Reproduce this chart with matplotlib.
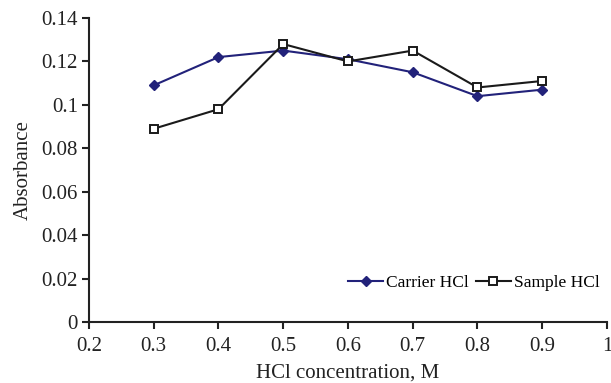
import matplotlib
matplotlib.use("Agg")
import matplotlib.pyplot as plt

plt.rcParams['font.family'] = ['Liberation Serif', 'DejaVu Serif']

hcl = [0.3, 0.4, 0.5, 0.6, 0.7, 0.8, 0.9]
carrier = [0.109, 0.122, 0.125, 0.121, 0.115, 0.104, 0.107]
sample = [0.089, 0.098, 0.128, 0.120, 0.125, 0.108, 0.111]
xticks = [0.2, 0.3, 0.4, 0.5, 0.6, 0.7, 0.8, 0.9, 1.0]
xticklabels = ['0.2', '0.3', '0.4', '0.5', '0.6', '0.7', '0.8', '0.9', '1']
yticks = [0, 0.02, 0.04, 0.06, 0.08, 0.1, 0.12, 0.14]
yticklabels = ['0', '0.02', '0.04', '0.06', '0.08', '0.1', '0.12', '0.14']

fig = plt.figure(figsize=(6.11, 3.83), dpi=100)
ax = fig.add_axes([89/611, 1-322/383, (607-89)/611, (322-18)/383])

ax.plot(hcl, carrier, color='#22227a', lw=1.5, marker='D', ms=5,
        mfc='#22227a', mec='#22227a', label='Carrier HCl')
ax.plot(hcl, sample, color='#1a1a1a', lw=1.5, marker='s', ms=6,
        mfc='white', mec='#1a1a1a', mew=1.4, label='Sample HCl')

ax.set_xlim(0.2, 1.0)
ax.set_ylim(0, 0.14)
ax.set_xticks(xticks)
ax.set_xticklabels(xticklabels)
ax.set_yticks(yticks)
ax.set_yticklabels(yticklabels)
ax.tick_params(direction='out', length=5, width=1.5, labelsize=15, colors='#222222')
ax.tick_params(axis='x', pad=6)
ax.tick_params(axis='y', pad=3)
for s in ['top', 'right']:
    ax.spines[s].set_visible(False)
for s in ['left', 'bottom']:
    ax.spines[s].set_linewidth(1.5)
    ax.spines[s].set_color('#222222')

ax.set_xlabel('HCl concentration, M', fontsize=15, color='#222222', labelpad=5)
ax.set_ylabel('Absorbance', fontsize=15, color='#222222', labelpad=6)

ax.legend(loc='lower right', bbox_to_anchor=(1.0, 0.08), ncol=2, frameon=False,
          fontsize=12.5, handlelength=2.0, columnspacing=0.4, handletextpad=0.2,
          borderaxespad=0)

fig.savefig('out.png', dpi=100)
